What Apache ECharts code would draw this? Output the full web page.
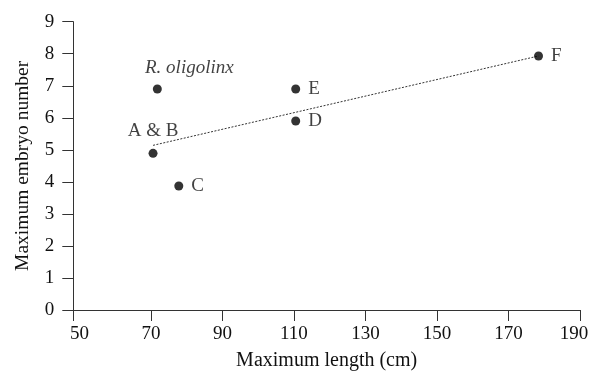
<!DOCTYPE html>
<html>
<head>
<meta charset="utf-8">
<script src="https://cdn.jsdelivr.net/npm/echarts@6/dist/echarts.min.js"></script>
<style>
  html, body { margin: 0; padding: 0; background: #fff; }
  #chart { width: 592px; height: 374px; }
</style>
</head>
<body>
<div id="chart"></div>
<script>
// 数据
var pointNames = ["R. oligolinx", "A & B", "C", "E", "D", "F"];
var maxLength = [71.8, 70.6, 77.8, 110.5, 110.5, 178.4];
var maxEmbryo = [6.9, 4.89, 3.87, 6.9, 5.9, 7.93];
// 趋势线两端
var trendX = [70.6, 178.4];
var trendY = [5.14, 7.93];
// 刻度
var xMin = 48.3, xMax = 190;
var xTickLabels = [50, 70, 90, 110, 130, 150, 170, 190];
var xTickMarks = [48.3, 70, 90, 110, 130, 150, 170, 190];
var yMin = 0, yMax = 9;

var chart = echarts.init(document.getElementById("chart"));
var font = "Liberation Serif";
var axisColor = "#333";
var textColor = "#111";

// 标签位置
function labelFor(name) {
  if (name === "R. oligolinx") {
    return { show: true, position: "top", distance: 7, offset: [32, 0], fontStyle: "italic" };
  }
  if (name === "A & B") {
    return { show: true, position: "top", distance: 8 };
  }
  return { show: true, position: "right", distance: 8 };
}

var pts = pointNames.map(function (n, i) {
  return { name: n, value: [maxLength[i], maxEmbryo[i]], label: labelFor(n) };
});

var option = {
  animation: false,
  textStyle: { fontFamily: font },
  grid: { left: 73.3, right: 12, top: 21.7, bottom: 64, outerBoundsMode: "none" },
  xAxis: {
    type: "value",
    min: xMin,
    max: xMax,
    name: "Maximum length (cm)",
    nameLocation: "middle",
    nameGap: 41,
    nameTextStyle: { fontFamily: font, fontSize: 20, color: textColor },
    axisLine: { lineStyle: { color: axisColor, width: 1 } },
    axisTick: { show: true, length: 11, customValues: xTickMarks, lineStyle: { color: axisColor } },
    axisLabel: {
      customValues: xTickLabels,
      margin: 15,
      fontFamily: font,
      fontSize: 19,
      color: textColor,
      // 最右边的标签往左挪一点，避免被裁掉
      formatter: function (v) {
        return v === xMax ? "{r|" + v + "}" : String(v);
      },
      rich: { r: { fontFamily: font, fontSize: 19, color: textColor, padding: [0, 12, 0, 0] } },
    },
    splitLine: { show: false },
  },
  yAxis: {
    type: "value",
    min: yMin,
    max: yMax,
    interval: 1,
    name: "Maximum embryo number",
    nameLocation: "middle",
    nameGap: 40,
    nameTextStyle: { fontFamily: font, fontSize: 19.5, color: textColor },
    axisLine: { show: true, lineStyle: { color: axisColor, width: 1 } },
    axisTick: { show: true, length: 11, lineStyle: { color: axisColor } },
    axisLabel: { margin: 19, fontFamily: font, fontSize: 19, color: textColor },
    splitLine: { show: false },
  },
  series: [
    {
      name: "trend",
      type: "line",
      data: trendX.map(function (x, i) { return [x, trendY[i]]; }),
      symbol: "none",
      lineStyle: { color: "#333", width: 1, type: [2, 1.5] },
      silent: true,
      z: 1,
    },
    {
      name: "species",
      type: "scatter",
      data: pts,
      symbolSize: 9,
      itemStyle: { color: "#000" },
      label: {
        formatter: "{b}",
        fontFamily: font,
        fontSize: 19,
        color: textColor,
      },
      z: 2,
    },
  ],
};
chart.setOption(option);
</script>
</body>
</html>
